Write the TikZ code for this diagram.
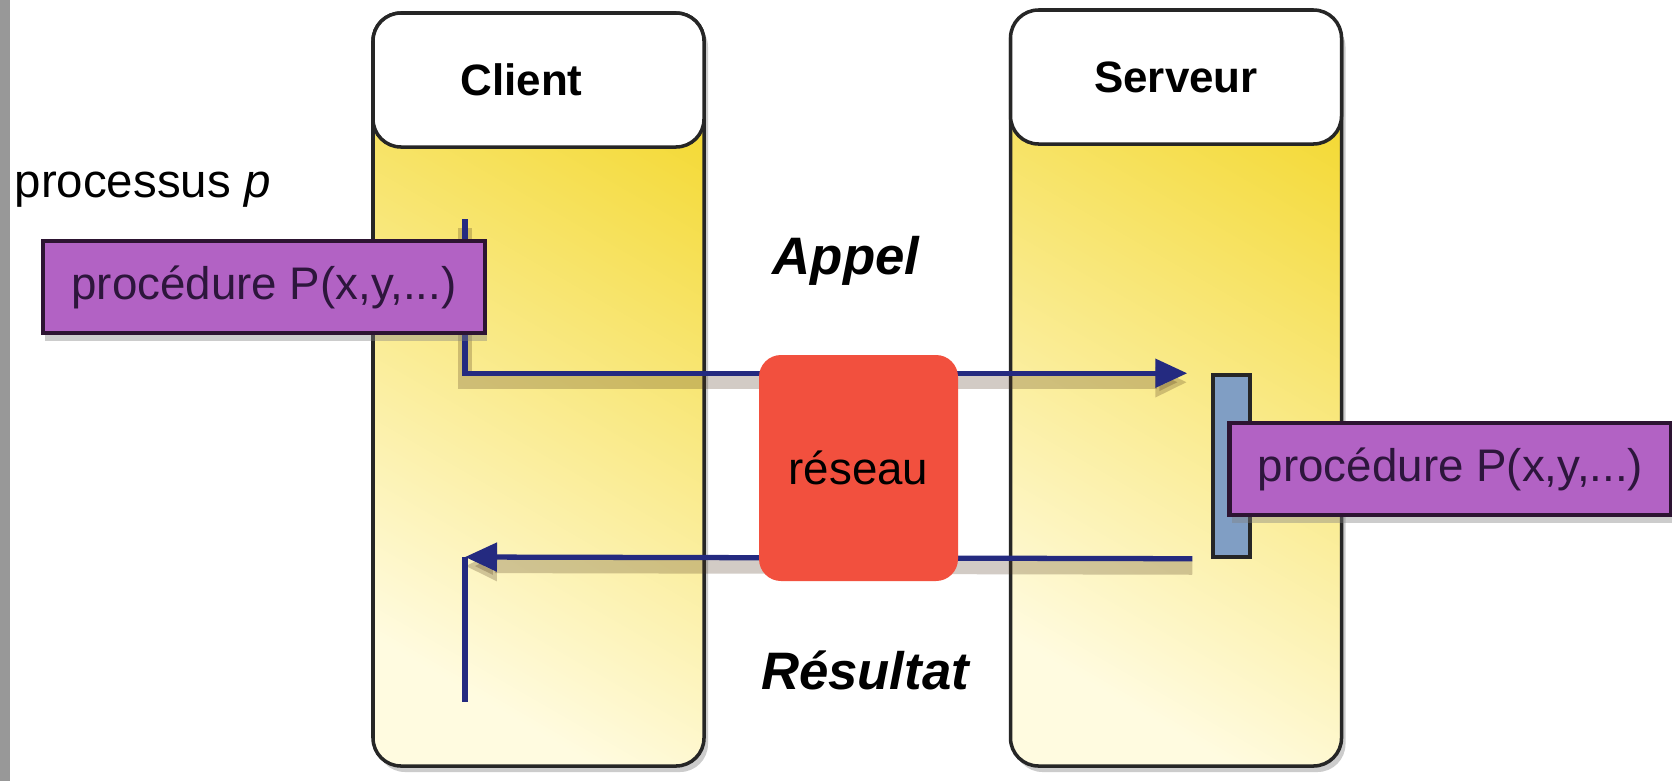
\documentclass[tikz,border=0pt]{standalone}
\usepackage{fontspec}
\setmainfont{Liberation Sans}
\usetikzlibrary{arrows.meta,shadows}

\definecolor{lanecream}{RGB}{255,251,224}
\definecolor{laneyellow}{RGB}{244,218,56}
\definecolor{procpurple}{RGB}{178,98,196}
\definecolor{netred}{RGB}{242,80,62}
\definecolor{stackblue}{RGB}{128,158,196}
\definecolor{msgblue}{RGB}{36,42,128}
\definecolor{edgegray}{RGB}{152,152,152}

\tikzset{
  lane/.style={draw=black!85, line width=1pt, rounded corners=0.28cm,
    minimum width=3.31cm, minimum height=7.53cm,
    top color=laneyellow, bottom color=lanecream, shading angle=-30,
    drop shadow={shadow xshift=0.04cm, shadow yshift=-0.06cm, opacity=0.4}},
  lanehead/.style={draw=black!85, line width=1pt, rounded corners=0.28cm,
    fill=white, minimum width=3.31cm, minimum height=1.34cm,
    font=\fontsize{12.5}{15}\selectfont\bfseries},
  proc/.style={draw={rgb,255:red,45;green,20;blue,50}, line width=1.2pt,
    fill=procpurple, minimum width=4.42cm, minimum height=0.92cm, inner sep=0pt,
    text={rgb,255:red,45;green,22;blue,60}, font=\fontsize{13}{15}\selectfont,
    drop shadow={shadow xshift=0.02cm, shadow yshift=-0.08cm, opacity=0.4}},
  netbox/.style={fill=netred, rounded corners=0.22cm,
    minimum width=1.99cm, minimum height=2.26cm, font=\fontsize{13}{15}\selectfont},
  stackbox/.style={draw=black!85, line width=1pt, fill=stackblue,
    minimum width=0.37cm, minimum height=1.82cm, inner sep=0pt},
  msg/.style={draw=msgblue, line width=1.5pt,
    -{Triangle[length=0.32cm,width=0.28cm]},
    preaction={draw=black!60!brown, opacity=0.25, line width=4pt,
      transform canvas={yshift=-0.09cm}}},
  msgline/.style={draw=msgblue, line width=1.5pt},
  msgtext/.style={font=\fontsize{15}{18}\selectfont\bfseries\itshape}
}

\begin{document}
\begin{tikzpicture}
  \useasboundingbox (0,0) rectangle (16.72,7.81);
  \fill[white] (0,0) rectangle (16.72,7.81);
  \fill[edgegray] (0,0) rectangle (0.1,7.81);

  % swimlanes with their headers
  \node[lane] (clientlane) at (5.385,3.915) {};
  \node[lane] (serverlane) at (11.76,3.915) {};
  \node[lanehead] (clienthead) at (5.385,7.01) {\hspace*{-0.34cm}Client};
  \node[lanehead] (serverhead) at (11.76,7.04) {Serveur};

  \node[anchor=base west, inner sep=0pt, font=\fontsize{13.5}{15}\selectfont]
    (proclabel) at (0.14,5.84) {processus \textit{p}};

  % call and return
  \coordinate (callstart) at (4.65,5.62);
  \coordinate (retcorner) at (4.65,2.24);
  \coordinate (retstop) at (4.65,0.79);
  \node[stackbox] (stack) at (12.315,3.15) {};

  \draw[msg, shorten >=0.24cm] (callstart) |- (stack.north west);
  \draw[msg, shorten <=0.19cm] (stack.south west) -- (retcorner);
  \draw[msgline] (retcorner) -- (retstop);

  \node[netbox] (net) at (8.585,3.13) {réseau};
  \node[proc] (callerproc) at (2.64,4.94) {procédure P(x,y,...)};
  \node[proc] (calleeproc) at (14.505,3.12) {procédure P(x,y,...)};

  \node[msgtext] (appel) at (8.46,5.20) {Appel};
  \node[msgtext] (resultat) at (8.65,1.11) {Résultat};
\end{tikzpicture}
\end{document}
